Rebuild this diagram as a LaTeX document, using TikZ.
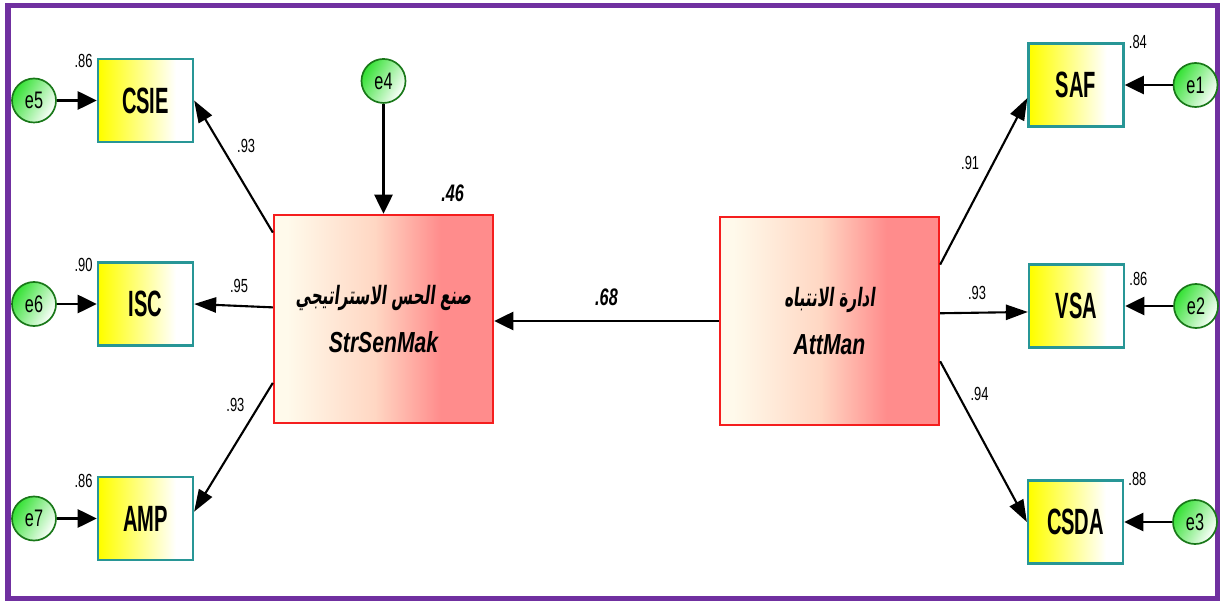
\documentclass[tikz,border=0pt]{standalone}
\usepackage{fontspec}
\setmainfont{Liberation Sans}
\newfontfamily\obsfont[FakeStretch=0.55]{Liberation Sans}
\newfontfamily\latfont[FakeStretch=0.73]{Liberation Sans}
\newfontfamily\coeffont[FakeStretch=0.68]{Liberation Sans}
\newfontfamily\arabicfont[Script=Arabic, FakeSlant=0.12, FakeStretch=0.6]{DejaVu Sans}
\TeXXeTstate=1
\usetikzlibrary{arrows.meta, positioning}
\definecolor{sempurple}{RGB}{112,48,160}
\definecolor{semteal}{RGB}{40,150,150}
\definecolor{semred}{RGB}{245,30,30}
\definecolor{semsalmon}{RGB}{255,140,140}
\definecolor{sempeach}{RGB}{255,215,195}
\definecolor{semcream}{RGB}{255,250,235}
\definecolor{semgreen}{RGB}{25,120,25}
\definecolor{semlime}{RGB}{50,225,50}
% fills: the 25bp..75bp band spans the node from left to right
\pgfdeclarehorizontalshading{latfill}{100bp}{color(0bp)=(semcream); color(28bp)=(semcream);
    color(48bp)=(sempeach); color(63bp)=(semsalmon); color(100bp)=(semsalmon)}
\pgfdeclarehorizontalshading{obsfill}{100bp}{color(0bp)=(yellow); color(26bp)=(yellow);
    color(46bp)=(yellow!50!white); color(66bp)=(white); color(100bp)=(white)}
\newcommand{\artext}[1]{{\arabicfont\bfseries\upshape\fontsize{18}{34}\selectfont\beginR #1\endR}}
\tikzset{
    obsbox/.style={draw=semteal, line width=1.6pt, shading=obsfill, minimum width=2.375cm,
                   minimum height=2.075cm, inner sep=0pt,
                   font=\obsfont\bfseries\fontsize{26}{30}\selectfont},
    latbox/.style={draw=semred, line width=1.6pt, shading=latfill, minimum width=5.475cm,
                   minimum height=5.2cm, align=center, inner sep=2pt,
                   font=\latfont\bfseries\itshape\fontsize{20.6}{34}\selectfont},
    errcirc/.style={circle, draw=semgreen, line width=1.2pt, left color=semlime, right color=white,
                    shading angle=60, minimum size=1.1cm, inner sep=0pt,
                    font=\coeffont\fontsize{17}{19}\selectfont},
    arrow/.style={-{Triangle[length=0.48cm, width=0.45cm]}, line width=2pt},
    load/.style={-{Triangle[length=0.55cm, width=0.38cm]}, line width=1.5pt},
    lbl/.style={font=\coeffont\fontsize{13.5}{15}\selectfont, inner sep=0pt},
    biglbl/.style={font=\coeffont\bfseries\itshape\fontsize{17}{19}\selectfont, inner sep=0pt},
}

\begin{document}
\begin{tikzpicture}[x=0.025cm, y=-0.025cm]
    \useasboundingbox (0,0) rectangle (1221,602);
    \draw[sempurple, line width=0.125cm] (8,6) rectangle (1217,598);
    % latent factors
    \node[latbox] (ssm) at (383.5,319) {\artext{صنع الحس الاستراتيجي}\\StrSenMak};
    \node[latbox] (att) at (829.5,321) {\artext{ادارة الانتباه}\\AttMan};
    % indicators
    \node[obsbox] (csie) at (145.5,100.5) {CSIE};
    \node[obsbox] (isc) at (145.5,304) {ISC};
    \node[obsbox] (amp) at (145.5,518.5) {AMP};
    \node[obsbox] (saf) at (1076,85) {SAF};
    \node[obsbox] (vsa) at (1076.5,306) {VSA};
    \node[obsbox] (csda) at (1075.5,522) {CSDA};
    % error terms
    \node[errcirc, left=1cm of csie] (e5) {e5};
    \node[errcirc, left=1cm of isc] (e6) {e6};
    \node[errcirc, left=1cm of amp] (e7) {e7};
    \node[errcirc, right=1.2cm of saf] (e1) {e1};
    \node[errcirc, right=1.2cm of vsa] (e2) {e2};
    \node[errcirc, right=1.2cm of csda] (e3) {e3};
    \node[errcirc, above=2.75cm of ssm] (e4) {e4};
    \foreach \e/\v in {e5/csie, e6/isc, e7/amp, e1/saf, e2/vsa, e3/csda, e4/ssm} { \draw[arrow] (\e) -- (\v); }
    % structural path
    \draw[arrow] (att.west) -- (att.west -| ssm.east) node[biglbl, midway, above=0.35cm] (b68) {.68};
    \node[biglbl, above left=0.3cm and 0.75cm of ssm.north east] (r46) {.46};
    % loadings
    \draw[load] (ssm.142.5) -- (csie.east) node[lbl, pos=0.654, right=0.37cm] (l1) {.93};
    \draw[load] (ssm.174) -- (isc.east) node[lbl, pos=0.43, above=0.31cm] (l2) {.95};
    \draw[load] (ssm.210) -- (amp.8) node[lbl, pos=0.17, left=0.35cm] (l3) {.93};
    \draw[load] (att.27) -- (saf.195) node[lbl, pos=0.61, left=0.33cm] (l4) {.91};
    \draw[load] (att.4) -- (vsa.187) node[lbl, pos=0.42, above=0.29cm] (l5) {.93};
    \draw[load] (att.-20) -- (csda.west) node[lbl, pos=0.205, right=0.29cm] (l6) {.94};
    % squared multiple correlations
    \node[lbl, left=0.1cm of csie.north west, yshift=-0.08cm] (r5) {.86};
    \node[lbl, left=0.1cm of isc.north west, yshift=-0.1cm] (r6) {.90};
    \node[lbl, left=0.1cm of amp.north west, yshift=-0.12cm] (r7) {.86};
    \node[lbl, right=0.1cm of saf.north east] (r1) {.84};
    \node[lbl, right=0.1cm of vsa.north east, yshift=-0.39cm] (r2) {.86};
    \node[lbl, right=0.1cm of csda.north east] (r3) {.88};
\end{tikzpicture}
\end{document}
